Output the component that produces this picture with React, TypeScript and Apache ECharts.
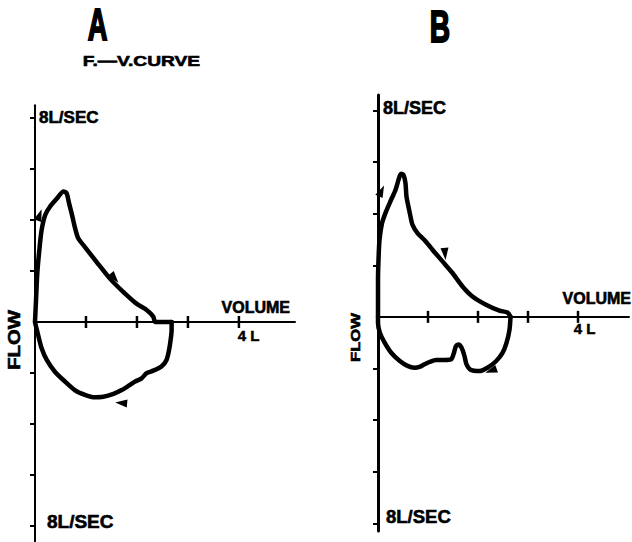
import React, { useEffect, useRef } from "react";
import * as echarts from "echarts";

// ---- data (volume in L, flow in L/s) ----
const aExpiration: [number, number][] = [
  [0, 0], [0.02, 0.86], [0.045, 1.91], [0.085, 2.82], [0.13, 3.61], [0.2, 4.2],
  [0.29, 4.51], [0.43, 4.84], [0.56, 5.12], [0.62, 5.05], [0.67, 4.64], [0.72, 4.25],
  [0.78, 3.73], [0.85, 3.27], [0.98, 2.94], [1.21, 2.35], [1.47, 1.7], [1.73, 1.18],
  [1.99, 0.72], [2.19, 0.47], [2.32, 0.21], [2.36, 0], [2.68, 0],
];
const aInspiration: [number, number][] = [
  [2.68, 0], [2.68, -0.31], [2.66, -0.71], [2.63, -1.1], [2.58, -1.49], [2.48, -1.75],
  [2.32, -1.91], [2.19, -2.01], [2.09, -2.21], [1.96, -2.34], [1.83, -2.51], [1.7, -2.67],
  [1.54, -2.82], [1.34, -2.93], [1.14, -2.95], [0.98, -2.86], [0.78, -2.67], [0.59, -2.34],
  [0.39, -1.95], [0.23, -1.49], [0.13, -1.03], [0.07, -0.58], [0.02, -0.18], [0, 0],
];
const bExpiration: [number, number][] = [
  [0, 0], [0, 0.65], [0, 1.43], [0.01, 2.21], [0.03, 2.98], [0.08, 3.63], [0.16, 4.08],
  [0.26, 4.53], [0.35, 4.92], [0.41, 5.31], [0.46, 5.55], [0.51, 5.5], [0.55, 5.18],
  [0.57, 4.66], [0.63, 4.08], [0.69, 3.57], [0.79, 3.25], [0.93, 2.98], [1.09, 2.6],
  [1.29, 2.15], [1.49, 1.7], [1.69, 1.18], [1.89, 0.79], [2.16, 0.47], [2.43, 0.24],
  [2.59, 0.17], [2.65, 0],
];
const bInspiration: [number, number][] = [
  [2.65, 0], [2.63, -0.5], [2.57, -1.01], [2.49, -1.4], [2.36, -1.72], [2.19, -1.97],
  [2.03, -2.1], [1.86, -2.06], [1.77, -1.84], [1.73, -1.52], [1.67, -1.19], [1.61, -1.07],
  [1.56, -1.13], [1.51, -1.45], [1.46, -1.65], [1.33, -1.67], [1.16, -1.67], [1.03, -1.75],
  [0.93, -1.84], [0.83, -1.94], [0.73, -1.97], [0.59, -1.9], [0.43, -1.7], [0.26, -1.38],
  [0.13, -0.99], [0.04, -0.63], [0, -0.24], [0, 0],
];
const aArrows: [number, number][] = [[0.09, 4.2], [1.56, 1.72], [1.69, -3.18]];
const aArrowAngles = [-20, -140, 85];
const bArrows: [number, number][] = [[0.07, 4.88], [1.34, 2.44], [2.26, -2.09]];
const bArrowAngles = [-25, 185, 110];

const volumeTicks = [1, 2, 3, 4];
const volumeLabels = [4];
const flowTicks = [-8, -6, -4, -2, 2, 4, 6, 8];
const flowLabels = [8, -8];

const FONT = '"Liberation Sans", Arial, Helvetica, sans-serif';

function makeX(gridIndex: number, max: number, nameGap: number, namePadBottom: number) {
  return {
    type: "value",
    gridIndex,
    min: 0,
    max,
    axisLine: { show: true, onZero: true, lineStyle: { color: "#000", width: 2 } },
    axisTick: { show: false },
    splitLine: { show: false },
    axisLabel: { show: false },
    name: "VOLUME",
    nameLocation: "end",
    nameGap,
    nameMoveOverlap: false,
    nameTextStyle: {
      align: "right",
      verticalAlign: "bottom",
      padding: [0, 0, namePadBottom, 0],
      fontSize: 16,
      fontWeight: "bold",
      fontFamily: FONT,
      color: "#000",
      textBorderColor: "#000",
      textBorderWidth: 0.6,
    },
  };
}

function makeY(gridIndex: number, min: number, max: number, width: number, margin: number, rich: any) {
  return {
    type: "value",
    gridIndex,
    min,
    max,
    axisLine: { show: true, onZero: true, lineStyle: { color: "#000", width } },
    axisTick: { show: true, inside: false, length: 5, customValues: flowTicks, lineStyle: { color: "#000", width: 2 } },
    splitLine: { show: false },
    axisLabel: {
      show: true,
      inside: true,
      margin,
      customValues: flowLabels,
      formatter: (v: number) => (v > 0 ? `{top|${Math.abs(v)}L/SEC}` : `{bot|${Math.abs(v)}L/SEC}`),
      rich,
      color: "#000",
    },
  };
}

const labelStyle = (fontSize: number, padding: number[]) => ({
  fontSize,
  fontWeight: "bold",
  fontFamily: FONT,
  color: "#000",
  textBorderColor: "#000",
  textBorderWidth: 0.6,
  padding,
});

function loop(data: [number, number][], idx: number) {
  return {
    type: "line",
    xAxisIndex: idx,
    yAxisIndex: idx,
    data,
    showSymbol: false,
    smooth: 0.25,
    lineStyle: { color: "#000", width: 4.5, cap: "round", join: "round" },
    z: 3,
  };
}

function arrows(data: [number, number][], angles: number[], idx: number) {
  return {
    type: "scatter",
    xAxisIndex: idx,
    yAxisIndex: idx,
    symbol: "triangle",
    symbolSize: [8, 12],
    itemStyle: { color: "#000", opacity: 1 },
    data: data.map((p, i) => ({ value: p, symbolRotate: angles[i] })),
    z: 4,
  };
}

function tickMarks(idx: number, dx: number, dy: number) {
  return {
    type: "scatter",
    xAxisIndex: idx,
    yAxisIndex: idx,
    symbol: "rect",
    symbolSize: [2.5, 12],
    itemStyle: { color: "#000", opacity: 1 },
    data: volumeTicks.map((v) => {
      const item: any = { value: [v, 0] };
      if (volumeLabels.includes(v)) {
        item.label = {
          show: true,
          position: [dx, dy],
          align: "left",
          verticalAlign: "top",
          formatter: `${v} L`,
          fontSize: 15,
          fontWeight: "bold",
          fontFamily: FONT,
          color: "#000",
          textBorderColor: "#000",
          textBorderWidth: 0.5,
        };
      }
      return item;
    }),
    z: 2,
  };
}

const txt = (text: string, x: number, y: number, fontSize: number, extra: any = {}, border = 0.6) => ({
  type: "text",
  x,
  y,
  ...extra,
  style: {
    text,
    fontSize,
    fontWeight: "bold",
    fontFamily: FONT,
    fill: "#000",
    stroke: "#000",
    lineWidth: border,
    align: "center",
    verticalAlign: "middle",
  },
});

export default function App() {
  const ref = useRef<HTMLDivElement>(null);
  useEffect(() => {
    if (!ref.current) return;
    const chart = echarts.init(ref.current, undefined, { renderer: "svg" });
    chart.setOption({
      animation: false,
      backgroundColor: "#fff",
      grid: [
        { left: 35, top: 105.25, width: 260, height: 436, outerBoundsMode: "none", containLabel: false },
        { left: 378, top: 95, width: 251, height: 436, outerBoundsMode: "none", containLabel: false },
      ],
      xAxis: [makeX(0, 5.1, -5, 6), makeX(1, 5.02, 2, 10)],
      yAxis: [
        makeY(0, -8.6, 8.5, 2, 4, { top: labelStyle(17, [0, 0, 0, 0]), bot: labelStyle(19, [0, 0, 8, 8]) }),
        makeY(1, -8.3, 8.6, 3, 5, { top: labelStyle(18, [0, 0, 4, 0]), bot: labelStyle(18.5, [0, 0, 14, 3]) }),
      ],
      graphic: [
        txt("A", 97.5, 24.5, 44, { scaleX: 0.62 }, 2),
        txt("B", 440, 27, 44, { scaleX: 0.64 }, 2),
        txt("F.—V.CURVE", 141.5, 60.5, 15, { scaleX: 1.28 }),
        txt("FLOW", 14, 340, 16, { rotation: Math.PI / 2, scaleX: 1.27 }),
        txt("FLOW", 356, 337.5, 12.5, { rotation: Math.PI / 2, scaleX: 1.33 }),
      ],
      series: [
        loop(aExpiration, 0),
        loop(aInspiration, 0),
        loop(bExpiration, 1),
        loop(bInspiration, 1),
        arrows(aArrows, aArrowAngles, 0),
        arrows(bArrows, bArrowAngles, 1),
        tickMarks(0, 0, 12),
        tickMarks(1, -3, 10),
      ],
    });
    return () => chart.dispose();
  }, []);
  return (
    <div
      ref={ref}
      style={{ position: "absolute", left: 0, top: 0, width: 632, height: 542, background: "#fff" }}
    />
  );
}
